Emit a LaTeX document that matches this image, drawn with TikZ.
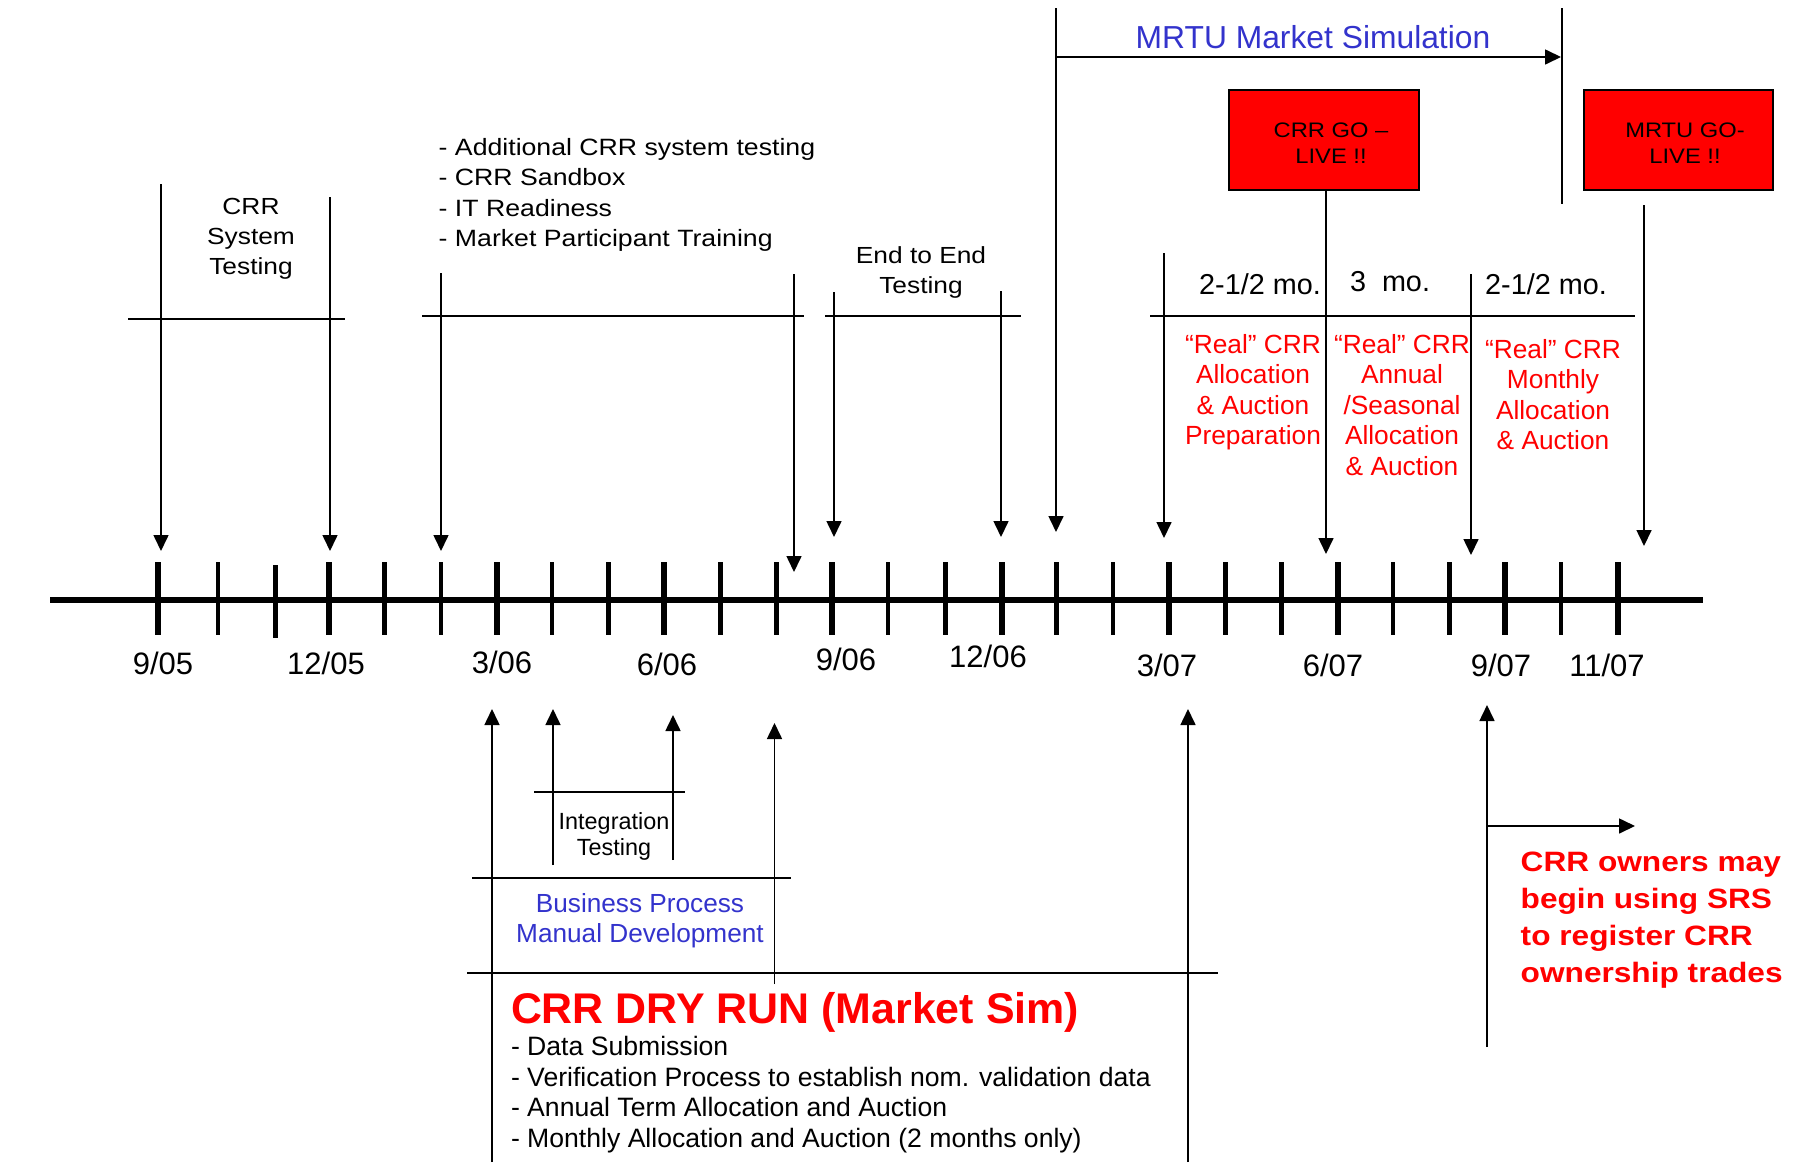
\documentclass[tikz,border=0pt]{standalone}
\usepackage{fontspec}
\setmainfont{Liberation Sans}
\newfontfamily\widefont[FakeStretch=1.13]{Liberation Sans}
\usetikzlibrary{arrows.meta}
\definecolor{cred}{RGB}{255,0,0}
\definecolor{cblue}{RGB}{51,51,204}
\begin{document}
\begin{tikzpicture}[x=1pt,y=-1pt,
  arr/.style={line width=1.6pt,-{Triangle[length=16pt,width=15pt]}},
  vline/.style={line width=1.6pt},
  spanline/.style={line width=2pt},
  axisline/.style={line width=5.3pt},
  tkthick/.style={line width=6pt},
  tkthin/.style={line width=4.5pt},
  tx/.style={inner sep=0pt,outer sep=0pt},
  widetxt/.style={tx,font=\widefont\fontsize{23.3}{30}\selectfont,align=center},
  datelbl/.style={tx,anchor=base,font=\fontsize{31}{34}\selectfont},
  redtxt/.style={tx,text=cred,font=\fontsize{26.3}{30.5}\selectfont,align=center,anchor=north},
  golive/.style={draw=black,line width=2.5pt,fill=cred,minimum width=190pt,minimum height=100pt,inner sep=0pt},
  gotxt/.style={tx,font=\widefont\fontsize{21}{26}\selectfont,align=center,anchor=north},
  motxt/.style={tx,anchor=base,font=\fontsize{28.8}{32}\selectfont}
]
\useasboundingbox (0,0) rectangle (1803,1162);

% ---------- timeline ----------
\coordinate (axL) at (50,600);
\coordinate (axR) at (1703,600);
\draw[axisline] (axL) -- (axR);
\foreach \x in {157.9,328.9,497.1,664.2,832.4,1002,1169.1,1337.5,1505.3,1617.8}{
  \draw[tkthick] (\x,562) -- (\x,635);
}
\foreach \x in {218.1,384.6,440.9,552.2,608.5,720.4,776.7,888.2,945.4,1056.7,1113.2,1225.7,1281.6,1392.8,1449.4,1561.2}{
  \draw[tkthin] (\x,562) -- (\x,635);
}
\draw[tkthin] (275.5,565) -- (275.5,638);

\node[datelbl] (d905) at (163,674) {9/05};
\node[datelbl] (d1205) at (326,674) {12/05};
\node[datelbl] (d306) at (502,673) {3/06};
\node[datelbl] (d606) at (667,675) {6/06};
\node[datelbl] (d906) at (846,670) {9/06};
\node[datelbl] (d1206) at (988,667) {12/06};
\node[datelbl] (d307) at (1167,676) {3/07};
\node[datelbl] (d607) at (1333,676) {6/07};
\node[datelbl] (d907) at (1501,676) {9/07};
\node[datelbl] (d1107) at (1607,676) {11/07};

% ---------- CRR system testing ----------
\coordinate (a1s) at (161,184); \coordinate (a1e) at (161,551);
\coordinate (a2s) at (330,197); \coordinate (a2e) at (330,551);
\draw[arr] (a1s) -- (a1e);
\draw[arr] (a2s) -- (a2e);
\coordinate (h1l) at (128,318.5); \coordinate (h1r) at (345,318.5);
\draw[spanline] (h1l) -- (h1r);
\node[widetxt,anchor=north] (sys) at (251,198.3) {CRR\\System\\Testing};

% ---------- additional testing ----------
\coordinate (a3s) at (441,273); \coordinate (a3e) at (441,551);
\coordinate (a4s) at (794,274); \coordinate (a4e) at (794,572);
\draw[arr] (a3s) -- (a3e);
\draw[arr] (a4s) -- (a4e);
\coordinate (h2l) at (422,316); \coordinate (h2r) at (804,316);
\draw[spanline] (h2l) -- (h2r);
\node[widetxt,align=left,anchor=north west,font=\widefont\fontsize{23.6}{30.3}\selectfont] (addl) at (438.7,138.3)
  {- Additional CRR system testing\\- CRR Sandbox\\- IT Readiness\\- Market Participant Training};

% ---------- end to end ----------
\coordinate (a5s) at (834,292); \coordinate (a5e) at (834,537);
\coordinate (a6s) at (1001,291); \coordinate (a6e) at (1001,537);
\draw[arr] (a5s) -- (a5e);
\draw[arr] (a6s) -- (a6e);
\coordinate (h3l) at (825,316); \coordinate (h3r) at (1021,316);
\draw[spanline] (h3l) -- (h3r);
\node[widetxt,anchor=north] (e2e) at (921,246.7) {End to End\\Testing};

% ---------- MRTU market simulation ----------
\coordinate (msTop) at (1056,8); \coordinate (msEnd) at (1056,532);
\draw[arr] (msTop) -- (msEnd);
\coordinate (msH) at (1056,57); \coordinate (msHe) at (1561,57);
\draw[arr] (msH) -- (msHe);
\coordinate (msRt) at (1562,8); \coordinate (msRb) at (1562,204);
\draw[vline] (msRt) -- (msRb);
\node[tx,anchor=base,text=cblue,font=\fontsize{31.8}{34}\selectfont] (mrtusim) at (1313,48) {MRTU Market Simulation};

% ---------- go-live boxes ----------
\node[golive] (crrgo) at (1324,140) {};
\node[gotxt] (crrgotxt) at (1331,123.3) {CRR GO –\\LIVE !!};
\node[golive,minimum width=189pt] (mrtugo) at (1678.5,140) {};
\node[gotxt] (mrtugotxt) at (1685,123.3) {MRTU GO-\\LIVE !!};

\coordinate (cgS) at (1326,190); \coordinate (cgE) at (1326,554);
\draw[arr] (cgS) -- (cgE);
\coordinate (mgS) at (1644,205); \coordinate (mgE) at (1644,546);
\draw[arr] (mgS) -- (mgE);
\coordinate (c7s) at (1164,253); \coordinate (c7e) at (1164,538);
\draw[arr] (c7s) -- (c7e);
\coordinate (c9s) at (1471,274); \coordinate (c9e) at (1471,555);
\draw[arr] (c9s) -- (c9e);
\coordinate (h4l) at (1150,316); \coordinate (h4r) at (1635,316);
\draw[spanline] (h4l) -- (h4r);

\node[motxt] (mo1) at (1260,294.5) {2-1/2 mo.};
\node[motxt] (mo2) at (1390,291) {3~ mo.};
\node[motxt] (mo3) at (1546,294.5) {2-1/2 mo.};

\node[redtxt] (r1) at (1253,334) {“Real” CRR\\Allocation\\\& Auction\\Preparation};
\node[redtxt] (r2) at (1402,334) {“Real” CRR\\Annual\\/Seasonal\\Allocation\\\& Auction};
\node[redtxt] (r3) at (1553,339) {“Real” CRR\\Monthly\\Allocation\\\& Auction};

% ---------- below timeline ----------
\coordinate (b1s) at (492,1162); \coordinate (b1e) at (492,709);
\coordinate (b2s) at (553,865); \coordinate (b2e) at (553,709);
\coordinate (b3s) at (673,860); \coordinate (b3e) at (673,715);
\coordinate (b4s) at (774.5,984); \coordinate (b4e) at (774.5,723);
\coordinate (b5s) at (1188,1162); \coordinate (b5e) at (1188,709);
\draw[arr] (b1s) -- (b1e);
\draw[arr] (b2s) -- (b2e);
\draw[arr] (b3s) -- (b3e);
\draw[arr] (b4s) -- (b4e);
\draw[arr] (b5s) -- (b5e);

\coordinate (h5l) at (534,792); \coordinate (h5r) at (685,792);
\draw[spanline] (h5l) -- (h5r);
\node[tx,anchor=north,align=center,font=\fontsize{23.4}{26}\selectfont] (integ) at (614,812.3) {Integration\\Testing};

\coordinate (h6l) at (472,878); \coordinate (h6r) at (791,878);
\draw[spanline] (h6l) -- (h6r);
\node[tx,anchor=north,align=center,text=cblue,font=\fontsize{26.2}{30.5}\selectfont] (bpm) at (640,893.3) {Business Process\\Manual Development};

\coordinate (h7l) at (467,973); \coordinate (h7r) at (1218,973);
\draw[spanline] (h7l) -- (h7r);
\node[tx,anchor=base west,text=cred,font=\bfseries\fontsize{42.9}{48}\selectfont] (dry) at (511,1023.3) {CRR DRY RUN (Market Sim)};
\node[tx,anchor=north west,align=left,font=\fontsize{26.6}{30.5}\selectfont] (drylist) at (511,1036.7)
  {- Data Submission\\- Verification Process to establish nom. validation data\\- Annual Term Allocation and Auction\\- Monthly Allocation and Auction (2 months only)};

% ---------- SRS ----------
\coordinate (s1s) at (1487,1047); \coordinate (s1e) at (1487,705);
\draw[arr] (s1s) -- (s1e);
\coordinate (s2s) at (1487,826); \coordinate (s2e) at (1635,826);
\draw[arr] (s2s) -- (s2e);
\node[tx,anchor=north west,align=left,text=cred,font=\widefont\bfseries\fontsize{28}{37}\selectfont] (srs) at (1520.7,851.7)
  {CRR owners may\\begin using SRS\\to register CRR\\ownership trades};

\end{tikzpicture}
\end{document}
